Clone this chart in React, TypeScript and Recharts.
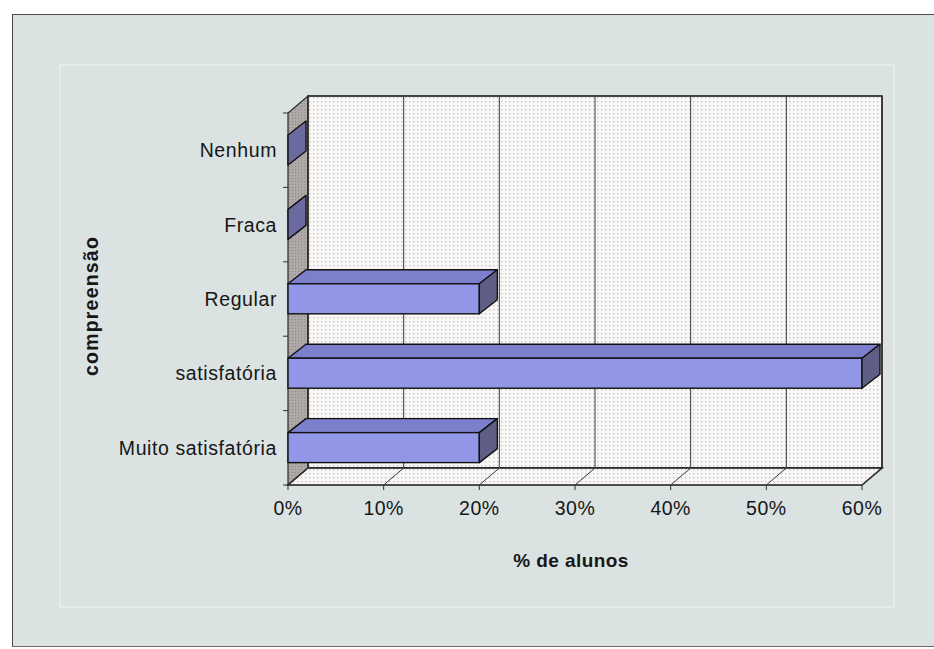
import React from 'react';
import { BarChart, Bar, XAxis, YAxis, CartesianGrid } from 'recharts';

const categories = ['Nenhum', 'Fraca', 'Regular', 'satisfatória', 'Muito satisfatória'];
const percentAlunos = [0, 0, 20, 60, 20];
const percentTicks = [0, 10, 20, 30, 40, 50, 60];

const data = categories.map((label, i) => ({ label, value: percentAlunos[i] }));

// tamanho do gráfico e área de plotagem
const W = 934;
const H = 649;
const MARGIN = { top: 113, right: 72, bottom: 104, left: 88 };
const Y_AXIS_W = 200;
const X_AXIS_H = 60;
const PLOT = {
  x: MARGIN.left + Y_AXIS_W,
  y: MARGIN.top,
  w: W - MARGIN.left - Y_AXIS_W - MARGIN.right,
  h: H - MARGIN.top - MARGIN.bottom - X_AXIS_H,
};

// profundidade do efeito 3D (paredes e barras)
const DX = 20;
const DY = 17;
const BAR_DX = 18;
const BAR_DY = 14;

const FONT = '"Liberation Sans", Arial, sans-serif';
const INK = '#161616';

// parede lateral, parede do fundo e chão (desenhados por baixo do gráfico)
const Walls = () => {
  const { x, y, w, h } = PLOT;
  const bottom = y + h;
  const n = categories.length;
  const bounds = Array.from({ length: n + 1 }, (_, i) => y + (i * h) / n);
  return (
    <svg width={W} height={H} style={{ position: 'absolute', left: 0, top: 0 }}>
      <defs>
        <pattern id="dots" width="4" height="4" patternUnits="userSpaceOnUse">
          <rect width="4" height="4" fill="#f9f7f5" />
          <rect x="1" y="1" width="1.3" height="1.3" fill="#c2c0be" />
        </pattern>
        <pattern id="wallGray" width="3" height="3" patternUnits="userSpaceOnUse">
          <rect width="3" height="3" fill="#aea8a7" />
          <rect x="1" y="1" width="1" height="1" fill="#8e8888" />
        </pattern>
      </defs>
      <rect x={60} y={65} width={834} height={542} fill="none" stroke="#f2f7f7" strokeOpacity={0.6} strokeWidth={1.5} />
      <polygon
        points={`${x},${bottom} ${x},${y} ${x + DX},${y - DY} ${x + DX},${bottom - DY}`}
        fill="url(#wallGray)"
        stroke="#2a2a2a"
        strokeWidth={1.2}
      />
      <rect x={x + DX} y={y - DY} width={w} height={h} fill="url(#dots)" stroke="#1a1a1a" strokeWidth={1.6} />
      <polygon
        points={`${x},${bottom} ${x + w},${bottom} ${x + w + DX},${bottom - DY} ${x + DX},${bottom - DY}`}
        fill="url(#dots)"
        stroke="#1a1a1a"
        strokeWidth={1.6}
      />
      {bounds.map((by, i) => (
        <line key={i} x1={x - 5} y1={by} x2={x} y2={by} stroke="#333" strokeWidth={1} />
      ))}
    </svg>
  );
};

// linha de grade no fundo + diagonal no chão
const gridLine = (props: any) => {
  const { x1, y1, y2, index } = props;
  return (
    <g key={`grid-${index}`}>
      <line x1={x1 + DX} y1={y1 - DY} x2={x1 + DX} y2={y2 - DY} stroke="#3a3a3a" strokeWidth={1} />
      <line x1={x1} y1={y2} x2={x1 + DX} y2={y2 - DY} stroke="#3a3a3a" strokeWidth={1} />
    </g>
  );
};

const Bar3D = (props: any) => {
  const { x, y, width, height } = props;
  const w = Math.max(width || 0, 0);
  const h = height;
  const top = `${x},${y} ${x + BAR_DX},${y - BAR_DY} ${x + w + BAR_DX},${y - BAR_DY} ${x + w},${y}`;
  const side = `${x + w},${y} ${x + w + BAR_DX},${y - BAR_DY} ${x + w + BAR_DX},${y + h - BAR_DY} ${x + w},${y + h}`;
  return (
    <g>
      {w > 0 && <polygon points={top} fill="#7c80cc" stroke="#111" strokeWidth={1.4} strokeLinejoin="round" />}
      {w > 0 && <rect x={x} y={y} width={w} height={h} fill="#9296e6" stroke="#111" strokeWidth={1.4} />}
      <polygon points={side} fill={w > 0 ? '#5f5f86' : '#6b6aa0'} stroke="#111" strokeWidth={1.4} strokeLinejoin="round" />
    </g>
  );
};

const PercentTick = (props: any) => {
  const { x, y, payload } = props;
  return (
    <text x={x} y={y + 22} textAnchor="middle" fill={INK} fontFamily={FONT} fontSize={19.5} letterSpacing={0.5}>
      {`${payload.value}%`}
    </text>
  );
};

const CategoryTick = (props: any) => {
  const { x, y, payload } = props;
  return (
    <text x={x} y={y + 7} textAnchor="end" fill={INK} fontFamily={FONT} fontSize={19.5} letterSpacing={0.6}>
      {payload.value}
    </text>
  );
};

const App = () => (
  <div style={{ position: 'absolute', left: 0, top: 0, width: W, height: H, background: '#fff', overflow: 'hidden' }}>
    <div
      style={{
        position: 'absolute',
        left: 12,
        top: 14,
        width: 940,
        height: 631,
        background: '#dae2e2',
        borderTop: '1.5px solid #4a4a4a',
        borderLeft: '1.5px solid #4a4a4a',
        borderBottom: '1.5px solid #6a6a6a',
      }}
    />
    <Walls />
    <div style={{ position: 'absolute', left: 0, top: 0 }}>
      <BarChart width={W} height={H} data={data} layout="vertical" margin={MARGIN} barSize={30}>
        <CartesianGrid horizontal={false} vertical={gridLine} />
        <XAxis
          type="number"
          domain={[0, 60]}
          ticks={percentTicks}
          interval={0}
          height={X_AXIS_H}
          axisLine={false}
          tickLine={{ stroke: '#333' }}
          tickSize={5}
          tickMargin={3}
          tick={<PercentTick />}
          label={({ viewBox }: any) => (
            <text
              x={viewBox.x + viewBox.width / 2 - 4}
              y={viewBox.y + 82}
              textAnchor="middle"
              fill={INK}
              fontFamily={FONT}
              fontWeight="bold"
              fontSize={19}
              letterSpacing={0.4}
            >
              % de alunos
            </text>
          )}
        />
        <YAxis
          type="category"
          dataKey="label"
          width={Y_AXIS_W}
          axisLine={false}
          tickLine={false}
          tickSize={0}
          tickMargin={11}
          tick={<CategoryTick />}
          label={() => (
            <text
              x={98}
              y={306}
              transform="rotate(-90, 98, 306)"
              textAnchor="middle"
              fill={INK}
              fontFamily={FONT}
              fontWeight="bold"
              fontSize={19.5}
              letterSpacing={1.2}
            >
              compreensão
            </text>
          )}
        />
        <Bar dataKey="value" shape={<Bar3D />} isAnimationActive={false} />
      </BarChart>
    </div>
  </div>
);

export default App;
